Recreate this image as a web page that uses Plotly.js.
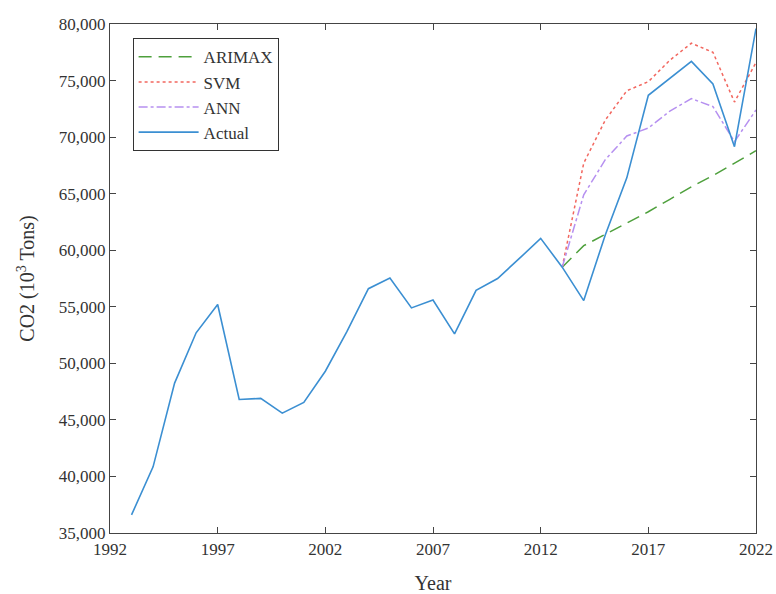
<!DOCTYPE html>
<html>
<head>
<meta charset="utf-8">
<script src="https://cdn.plot.ly/plotly-3.0.1.min.js"></script>
<style>html,body{margin:0;padding:0;background:#fff;}#chart{width:776px;height:594px;}</style>
</head>
<body>
<div id="chart"></div>
<script>
const yearsActual = [1993,1994,1995,1996,1997,1998,1999,2000,2001,2002,2003,2004,2005,2006,2007,2008,2009,2010,2011,2012,2013,2014,2015,2016,2017,2018,2019,2020,2021,2022];
const actual = [36600,40850,48250,52700,55200,46800,46900,45600,46550,49300,52800,56600,57550,54900,55600,52600,56450,57500,59250,61050,58500,55550,61350,66400,73700,75200,76700,74700,69150,79600];
const yearsForecast = [2013,2014,2015,2016,2017,2018,2019,2020,2021,2022];
const arimax = [58500,60400,61400,62400,63400,64500,65600,66600,67700,68800];
const svm = [58500,67700,71500,74100,74900,76800,78300,77500,73100,76600];
const ann = [58500,64900,68000,70100,70800,72300,73400,72700,69600,72400];

const font = "'Liberation Serif', 'DejaVu Serif', serif";
const traces = [
  {x: yearsForecast, y: arimax, name: 'ARIMAX', mode: 'lines', line: {color: '#4ea03c', width: 1.5, dash: '13px,7px'}},
  {x: yearsForecast, y: svm, name: 'SVM', mode: 'lines', line: {color: '#f2675f', width: 1.5, dash: 'dot'}},
  {x: yearsForecast, y: ann, name: 'ANN', mode: 'lines', line: {color: '#b690f0', width: 1.5, dash: 'dashdot'}},
  {x: yearsActual, y: actual, name: 'Actual', mode: 'lines', line: {color: '#3b8fd2', width: 1.6}}
];
const axisCommon = {
  showgrid: false, zeroline: false, showline: true, mirror: 'ticks', linecolor: '#444', linewidth: 1.2,
  ticks: 'inside', ticklen: 6, tickcolor: '#444', tickfont: {family: font, size: 17, color: '#333'}
};
const layout = {
  width: 776, height: 594,
  margin: {l: 110, r: 20, t: 24, b: 61},
  paper_bgcolor: '#fff', plot_bgcolor: '#fff',
  font: {family: font, color: '#333'},
  showlegend: true,
  legend: {x: 0.035, y: 0.972, xanchor: 'left', yanchor: 'top', bgcolor: '#fff', bordercolor: '#333', borderwidth: 1,
    font: {family: font, size: 17, color: '#333'}, tracegroupgap: 0, itemwidth: 60, entrywidth: 70},
  xaxis: Object.assign({}, axisCommon, {range: [1992, 2022], tickvals: [1992,1997,2002,2007,2012,2017,2022],
    title: {text: 'Year', font: {family: font, size: 20, color: '#333'}, standoff: 18}}),
  yaxis: Object.assign({}, axisCommon, {range: [35000, 80000], dtick: 5000, tickformat: ',d',
    title: {text: 'CO2 (10<sup>3</sup> Tons)', font: {family: font, size: 20, color: '#333'}, standoff: 18}})
};
Plotly.newPlot('chart', traces, layout, {displayModeBar: false, staticPlot: true});
</script>
</body>
</html>
